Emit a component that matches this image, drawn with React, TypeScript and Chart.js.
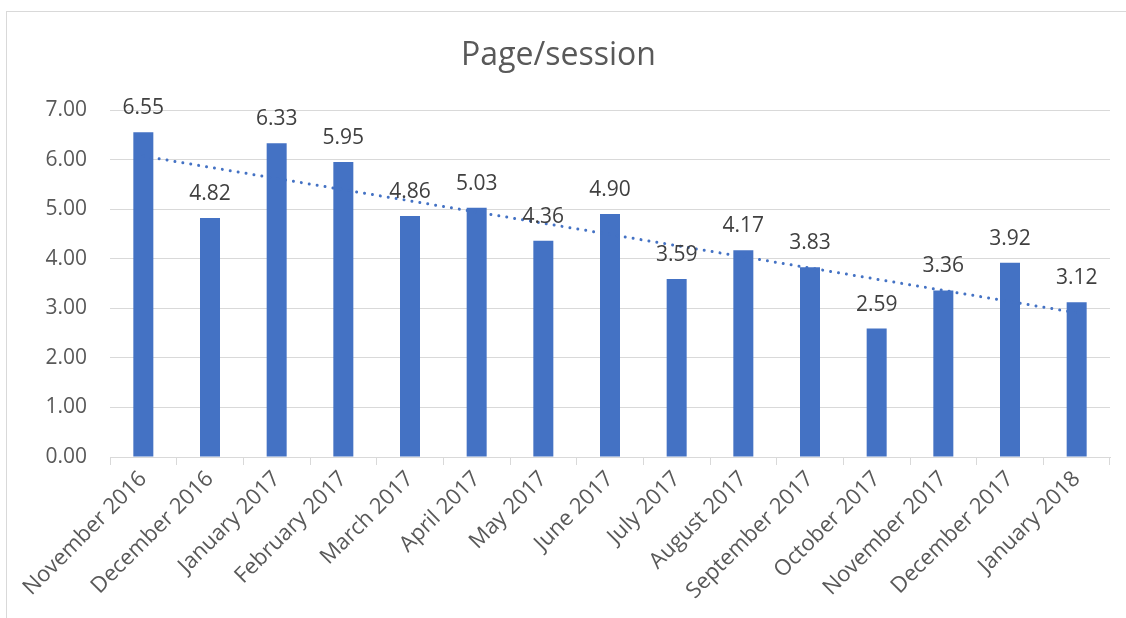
import React, { useEffect, useRef } from "react";
import { Chart, registerables } from "chart.js";

Chart.register(...registerables);

const categories = [
  "November 2016",
  "December 2016",
  "January 2017",
  "February 2017",
  "March 2017",
  "April 2017",
  "May 2017",
  "June 2017",
  "July 2017",
  "August 2017",
  "September 2017",
  "October 2017",
  "November 2017",
  "December 2017",
  "January 2018",
];

const pageSession = [6.55, 4.82, 6.33, 5.95, 4.86, 5.03, 4.36, 4.9, 3.59, 4.17, 3.83, 2.59, 3.36, 3.92, 3.12];

// linear trendline end values (first and last month)
const trendEnds = [6.07, 2.91];

const yTicks = [0, 1, 2, 3, 4, 5, 6, 7];

const FONT = "'Open Sans', 'DejaVu Sans', sans-serif";
const BAR = "#4472C4";
const TEXT = "#595959";
const GRID = "#d9d9d9";

const trendData = categories.map((_, i) =>
  i === 0 ? trendEnds[0] : i === categories.length - 1 ? trendEnds[1] : null
);

const dataLabels = {
  id: "dataLabels",
  afterDatasetsDraw(chart: any) {
    const meta = chart.getDatasetMeta(0);
    const ctx = chart.ctx;
    ctx.save();
    ctx.font = `21px ${FONT}`;
    ctx.fillStyle = "#404040";
    ctx.textAlign = "center";
    ctx.textBaseline = "alphabetic";
    meta.data.forEach((bar: any, i: number) => {
      ctx.fillText(pageSession[i].toFixed(2), bar.x, bar.y - 18);
    });
    ctx.restore();
  },
};

export default function App() {
  const ref = useRef<HTMLCanvasElement | null>(null);

  useEffect(() => {
    if (!ref.current) return;
    const chart = new Chart(ref.current, {
      type: "bar",
      data: {
        labels: categories,
        datasets: [
          {
            type: "bar",
            label: "Page/session",
            data: pageSession,
            backgroundColor: BAR,
            barPercentage: 0.3,
            categoryPercentage: 1,
            order: 2,
          },
          {
            type: "line",
            label: "Linear (Page/session)",
            data: trendData as any,
            borderColor: BAR,
            borderWidth: 3,
            borderCapStyle: "round",
            borderDash: [0.01, 8],
            pointRadius: 0,
            spanGaps: true,
            fill: false,
            order: 1,
          } as any,
        ],
      },
      plugins: [dataLabels],
      options: {
        responsive: false,
        animation: false,
        layout: { padding: { left: 0, right: 17, top: 0, bottom: 0 } },
        plugins: {
          legend: { display: false },
          tooltip: { enabled: false },
          title: {
            display: true,
            text: "Page/session",
            color: TEXT,
            font: { family: FONT, size: 32, weight: "normal" },
            padding: { top: 25, bottom: 34.6 },
          },
        },
        scales: {
          x: {
            offset: true,
            grid: {
              display: true,
              offset: true,
              drawOnChartArea: false,
              drawTicks: true,
              tickLength: 8,
              color: GRID,
            },
            border: { display: true, color: GRID, width: 1 },
            ticks: {
              autoSkip: false,
              minRotation: 45,
              maxRotation: 45,
              color: TEXT,
              font: { family: FONT, size: 22 },
              padding: 1,
            },
            afterFit: (s: any) => {
              s.height = 162;
            },
          },
          y: {
            min: yTicks[0],
            max: yTicks[yTicks.length - 1],
            afterBuildTicks: (s: any) => {
              s.ticks = yTicks.map((v) => ({ value: v }));
            },
            grid: { color: GRID, drawTicks: false, lineWidth: 1 },
            border: { display: false },
            ticks: {
              color: TEXT,
              font: { family: FONT, size: 21 },
              padding: 23,
              callback: (v: any) => Number(v).toFixed(2),
            },
            afterFit: (s: any) => {
              s.width = 103;
            },
          },
        },
      },
    });
    return () => chart.destroy();
  }, []);

  return (
    <div
      style={{
        position: "fixed",
        left: 6,
        top: 11,
        width: 1140,
        height: 640,
        border: "1px solid #d9d9d9",
        background: "#fff",
        overflow: "hidden",
      }}
    >
      <canvas ref={ref} width={1120} height={607} style={{ display: "block" }} />
    </div>
  );
}
